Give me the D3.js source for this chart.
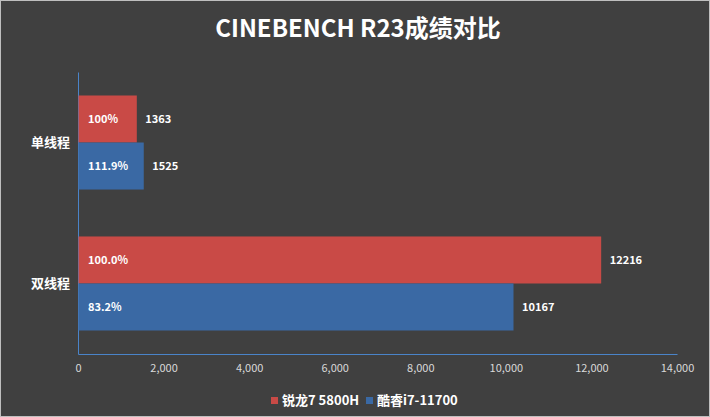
<!DOCTYPE html>
<html>
<head>
<meta charset="utf-8">
<script src="https://cdn.jsdelivr.net/npm/d3@7"></script>
<style>
  html, body { margin: 0; padding: 0; background: #404040; }
  svg { display: block; }
  text { font-family: "Noto Sans CJK SC", "Open Sans", sans-serif; }
</style>
</head>
<body>
<div id="chart"></div>
<script>
// Chart data
const categories = ["单线程", "双线程"];
const seriesNames = ["锐龙7 5800H", "酷睿i7-11700"];
const ryzenScores = [1363, 12216];
const intelScores = [1525, 10167];
const ryzenPct = ["100%", "100.0%"];
const intelPct = ["111.9%", "83.2%"];
const xTicks = [0, 2000, 4000, 6000, 8000, 10000, 12000, 14000];
const seriesColors = ["#c94a46", "#3a69a4"];

const W = 710, H = 417;
const margin = {top: 72, right: 33, bottom: 63, left: 78};
const width = W - margin.left - margin.right;
const height = H - margin.top - margin.bottom;

const svg = d3.select("#chart").append("svg")
  .attr("width", W)
  .attr("height", H);

// Background with a thin light frame
svg.append("rect")
  .attr("x", 0.5).attr("y", 0.5)
  .attr("width", W - 1).attr("height", H - 1)
  .attr("fill", "#404040")
  .attr("stroke", "#bfbfbf")
  .attr("stroke-width", 1);

// Title
svg.append("text")
  .attr("x", 358)
  .attr("y", 37)
  .attr("text-anchor", "middle")
  .attr("fill", "#ffffff")
  .attr("font-size", "24px")
  .attr("font-weight", "bold")
  .text("CINEBENCH R23成绩对比");

const g = svg.append("g")
  .attr("transform", `translate(${margin.left},${margin.top})`);

// Scales
const x = d3.scaleLinear().domain([0, 14000]).range([0, width]);
const y = d3.scaleBand().domain(categories).range([0, height])
  .paddingInner(0.333).paddingOuter(0.1667);
const ySub = d3.scaleBand().domain(seriesNames).range([0, y.bandwidth()]);

// X axis (labels only, baseline drawn separately)
const xAxis = g.append("g")
  .attr("transform", `translate(0,${height})`)
  .call(d3.axisBottom(x).tickValues(xTicks).tickSize(0).tickPadding(10).tickFormat(d3.format(",")));
xAxis.select(".domain").attr("stroke", "#4a84c9").attr("stroke-width", 1);
xAxis.selectAll("text")
  .attr("fill", "#d9d9d9")
  .attr("font-size", "11px")
  .attr("font-family", "'Open Sans', sans-serif");

// Y axis
const yAxis = g.append("g")
  .call(d3.axisLeft(y).tickSize(0).tickPadding(8));
yAxis.select(".domain").attr("stroke", "#4a84c9").attr("stroke-width", 1);
yAxis.selectAll("text")
  .attr("fill", "#ffffff")
  .attr("font-size", "13px")
  .attr("font-weight", "bold");

// Build rows
const rows = [];
categories.forEach((c, i) => {
  rows.push({cat: c, series: seriesNames[0], value: ryzenScores[i], pct: ryzenPct[i], color: seriesColors[0]});
  rows.push({cat: c, series: seriesNames[1], value: intelScores[i], pct: intelPct[i], color: seriesColors[1]});
});

// Bars
g.selectAll("rect.bar")
  .data(rows)
  .enter()
  .append("rect")
  .attr("class", "bar")
  .attr("x", x(0) + 0.5)
  .attr("y", d => y(d.cat) + ySub(d.series))
  .attr("width", d => x(d.value) - x(0))
  .attr("height", ySub.bandwidth())
  .attr("fill", d => d.color);

// Percentage labels inside bars
g.selectAll("text.pct")
  .data(rows)
  .enter()
  .append("text")
  .attr("class", "pct")
  .attr("x", 10)
  .attr("y", d => y(d.cat) + ySub(d.series) + ySub.bandwidth() / 2)
  .attr("dy", "0.35em")
  .attr("fill", "#ffffff")
  .attr("font-size", "11px")
  .attr("font-weight", "bold")
  .attr("font-family", "'Open Sans', sans-serif")
  .text(d => d.pct);

// Value labels at bar ends
g.selectAll("text.val")
  .data(rows)
  .enter()
  .append("text")
  .attr("class", "val")
  .attr("x", d => x(d.value) + 9)
  .attr("y", d => y(d.cat) + ySub(d.series) + ySub.bandwidth() / 2)
  .attr("dy", "0.35em")
  .attr("fill", "#ffffff")
  .attr("font-size", "11px")
  .attr("font-weight", "bold")
  .attr("font-family", "'Open Sans', sans-serif")
  .text(d => d.value);

// Legend
const legendX = [271, 366];
const legend = svg.append("g").attr("transform", "translate(0,400)");
const legendItems = legend.selectAll("g")
  .data(seriesNames)
  .enter()
  .append("g")
  .attr("transform", (d, i) => `translate(${legendX[i]},0)`);
legendItems.append("rect")
  .attr("y", -3)
  .attr("width", 7)
  .attr("height", 7)
  .attr("fill", (d, i) => seriesColors[i]);
legendItems.append("text")
  .attr("x", 11)
  .attr("dy", "0.35em")
  .attr("fill", "#ffffff")
  .attr("font-size", "13px")
  .attr("font-weight", "bold")
  .text(d => d);
</script>
</body>
</html>
